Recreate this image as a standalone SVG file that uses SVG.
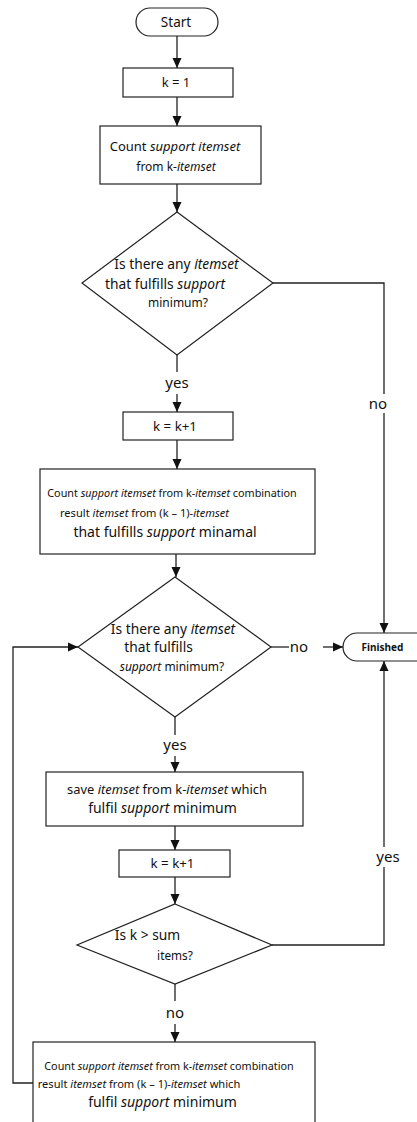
<svg xmlns="http://www.w3.org/2000/svg" width="417" height="1122" viewBox="0 0 417 1122">
<defs>
<marker id="ah" markerUnits="userSpaceOnUse" markerWidth="10" markerHeight="10" refX="10" refY="5" orient="auto">
<path d="M0,0.5 L10,5 L0,9.5 z" fill="#111"/>
</marker>
<style>
.n{fill:#fff;stroke:#222;stroke-width:1.2}
.c{fill:none;stroke:#222;stroke-width:1.3}
text{font-family:"Noto Sans","Open Sans",sans-serif;fill:#111;text-anchor:middle}
.i{font-style:italic}
.l{font-size:15px}
</style>
</defs>
<rect width="417" height="1122" fill="#fff"/>
<g id="connectors">
<line class="c" x1="177" y1="36" x2="177" y2="68" marker-end="url(#ah)"/>
<line class="c" x1="177" y1="97" x2="177" y2="126" marker-end="url(#ah)"/>
<line class="c" x1="177" y1="184" x2="177" y2="212" marker-end="url(#ah)"/>
<line class="c" x1="177" y1="355" x2="177" y2="372"/>
<line class="c" x1="177" y1="394" x2="177" y2="412" marker-end="url(#ah)"/>
<polyline class="c" points="273,283 384,283 384,394"/>
<line class="c" x1="384" y1="413" x2="384" y2="633" marker-end="url(#ah)"/>
<line class="c" x1="177" y1="440" x2="177" y2="469" marker-end="url(#ah)"/>
<line class="c" x1="176" y1="554" x2="176" y2="577" marker-end="url(#ah)"/>
<line class="c" x1="271" y1="647" x2="289" y2="647"/>
<line class="c" x1="323" y1="647" x2="343" y2="647" marker-end="url(#ah)"/>
<line class="c" x1="175" y1="717" x2="175" y2="735"/>
<line class="c" x1="175" y1="756" x2="175" y2="772" marker-end="url(#ah)"/>
<line class="c" x1="175" y1="826" x2="175" y2="850" marker-end="url(#ah)"/>
<line class="c" x1="175" y1="877" x2="175" y2="904" marker-end="url(#ah)"/>
<polyline class="c" points="272,945 384,945 384,867"/>
<line class="c" x1="384" y1="847" x2="384" y2="661" marker-end="url(#ah)"/>
<line class="c" x1="175" y1="984" x2="175" y2="1001"/>
<line class="c" x1="175" y1="1024" x2="175" y2="1042" marker-end="url(#ah)"/>
<polyline class="c" points="33,1083 13,1083 13,647 78,647" marker-end="url(#ah)"/>
<text class="l" x="177" y="388">yes</text>
<text class="l" x="378" y="409">no</text>
<text class="l" x="299" y="652">no</text>
<text class="l" x="175" y="750">yes</text>
<text class="l" x="388" y="862">yes</text>
<text class="l" x="175" y="1018">no</text>
</g>
<g id="start">
<rect class="n" x="136" y="8" width="82" height="28" rx="14"/>
<text x="176" y="27" font-size="13.5">Start</text>
</g>
<g id="k1">
<rect class="n" x="123" y="68" width="110" height="29"/>
<text x="176" y="87" font-size="13">k = 1</text>
</g>
<g id="count1">
<rect class="n" x="100" y="126" width="161" height="58"/>
<text x="175" y="151" font-size="13">Count <tspan class="i">support itemset</tspan></text>
<text x="176" y="171" font-size="12">from k-<tspan class="i">itemset</tspan></text>
</g>
<g id="d1">
<polygon class="n" points="177,212 273,283 177,355 82,283"/>
<text x="176.5" y="269" font-size="13.8">Is there any <tspan class="i">itemset</tspan></text>
<text x="165" y="289" font-size="13.8">that fulfills <tspan class="i">support</tspan></text>
<text x="178" y="307" font-size="12">minimum?</text>
</g>
<g id="kinc1">
<rect class="n" x="123" y="412" width="110" height="28"/>
<text x="175" y="431" font-size="13.3">k = k+1</text>
</g>
<g id="count2">
<rect class="n" x="40" y="469" width="275" height="85"/>
<text x="172" y="497" font-size="10.8">Count <tspan class="i">support itemset</tspan> from k-<tspan class="i">itemset</tspan> combination</text>
<text x="144.5" y="517" font-size="11.1">result <tspan class="i">itemset</tspan> from (k – 1)-<tspan class="i">itemset</tspan></text>
<text x="165" y="537" font-size="14">that fulfills <tspan class="i">support</tspan> minamal</text>
</g>
<g id="d2">
<polygon class="n" points="175,577 271,647 175,717 78,647"/>
<text x="173" y="634" font-size="13.8">Is there any <tspan class="i">itemset</tspan></text>
<text x="158.5" y="652" font-size="13.8">that fulfills</text>
<text x="172" y="671" font-size="12"><tspan class="i">support</tspan> minimum?</text>
</g>
<g id="finished">
<rect class="n" x="343" y="633" width="90" height="28" rx="14"/>
<text x="382.5" y="651" font-size="10" font-weight="bold">Finished</text>
</g>
<g id="save">
<rect class="n" x="46" y="772" width="257" height="54"/>
<text x="167" y="794" font-size="12.9">save <tspan class="i">itemset</tspan> from k-<tspan class="i">itemset</tspan> which</text>
<text x="162.5" y="813" font-size="14">fulfil <tspan class="i">support</tspan> minimum</text>
</g>
<g id="kinc2">
<rect class="n" x="119" y="850" width="111" height="27"/>
<text x="172.5" y="868" font-size="13.3">k = k+1</text>
</g>
<g id="d3">
<polygon class="n" points="175,904 272,945 175,984 77,945"/>
<text x="147.5" y="940" font-size="13.8">Is k &gt; sum</text>
<text x="175" y="960" font-size="11.8">items?</text>
</g>
<g id="count3">
<rect class="n" x="33" y="1042" width="282" height="100"/>
<text x="169" y="1070" font-size="10.8">Count <tspan class="i">support itemset</tspan> from k-<tspan class="i">itemset</tspan> combination</text>
<text x="139" y="1088" font-size="11.1">result <tspan class="i">itemset</tspan> from (k – 1)-<tspan class="i">itemset</tspan> which</text>
<text x="162.5" y="1107" font-size="14">fulfil <tspan class="i">support</tspan> minimum</text>
</g>
</svg>
